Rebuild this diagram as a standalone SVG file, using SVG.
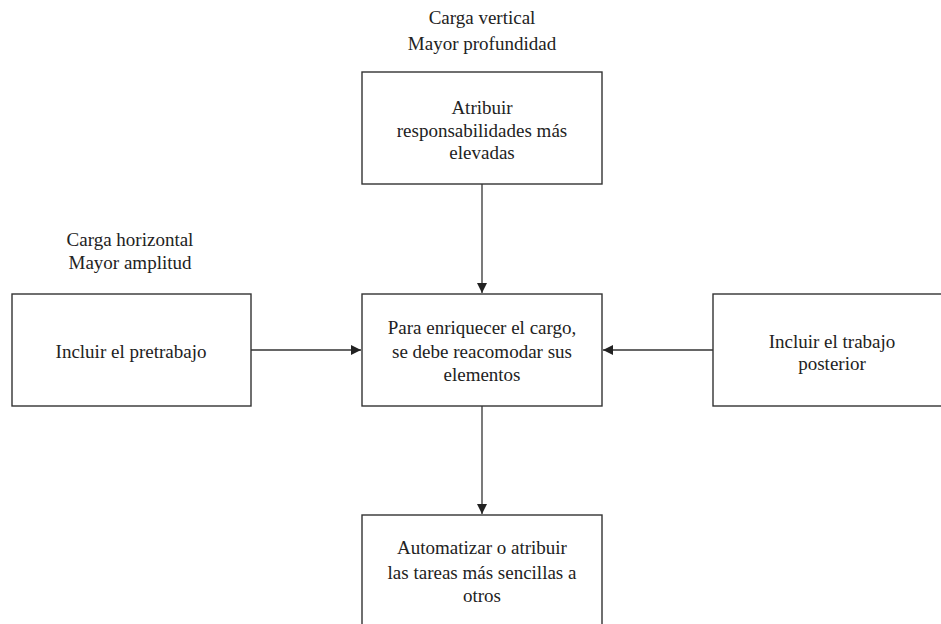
<svg xmlns="http://www.w3.org/2000/svg" width="941" height="624" viewBox="0 0 941 624">
<defs>
<marker id="ah" viewBox="0 0 10 10" refX="10" refY="5" markerWidth="10" markerHeight="10" markerUnits="userSpaceOnUse" orient="auto">
<path d="M0,0 L10,5 L0,10 Z" fill="#222"/>
</marker>
</defs>
<rect width="941" height="624" fill="#fff"/>
<g id="label-vertical">
<text x="482" y="24" font-size="19" font-family="Liberation Serif, serif" text-anchor="middle" fill="#222">Carga vertical</text>
<text x="482" y="50" font-size="19" font-family="Liberation Serif, serif" text-anchor="middle" fill="#222">Mayor profundidad</text>
</g>
<g id="label-horizontal">
<text x="130" y="246" font-size="19" font-family="Liberation Serif, serif" text-anchor="middle" fill="#222">Carga horizontal</text>
<text x="130" y="269" font-size="19" font-family="Liberation Serif, serif" text-anchor="middle" fill="#222">Mayor amplitud</text>
</g>
<g id="node-top">
<rect x="362" y="72" width="240" height="112" fill="#fff" stroke="#333" stroke-width="1.4"/>
<text x="482" y="114" font-size="19" font-family="Liberation Serif, serif" text-anchor="middle" fill="#222">Atribuir</text>
<text x="482" y="137" font-size="19" font-family="Liberation Serif, serif" text-anchor="middle" fill="#222">responsabilidades más</text>
<text x="482" y="159" font-size="19" font-family="Liberation Serif, serif" text-anchor="middle" fill="#222">elevadas</text>
</g>
<g id="node-center">
<rect x="362" y="294" width="240" height="112" fill="#fff" stroke="#333" stroke-width="1.4"/>
<text x="482" y="334" font-size="19" font-family="Liberation Serif, serif" text-anchor="middle" fill="#222">Para enriquecer el cargo,</text>
<text x="482" y="358" font-size="19" font-family="Liberation Serif, serif" text-anchor="middle" fill="#222">se debe reacomodar sus</text>
<text x="482" y="381" font-size="19" font-family="Liberation Serif, serif" text-anchor="middle" fill="#222">elementos</text>
</g>
<g id="node-left">
<rect x="12" y="294" width="239" height="112" fill="#fff" stroke="#333" stroke-width="1.4"/>
<text x="131" y="358" font-size="19" font-family="Liberation Serif, serif" text-anchor="middle" fill="#222">Incluir el pretrabajo</text>
</g>
<g id="node-right">
<rect x="713" y="294" width="240" height="112" fill="#fff" stroke="#333" stroke-width="1.4"/>
<text x="832" y="348" font-size="19" font-family="Liberation Serif, serif" text-anchor="middle" fill="#222">Incluir el trabajo</text>
<text x="832" y="370" font-size="19" font-family="Liberation Serif, serif" text-anchor="middle" fill="#222">posterior</text>
</g>
<g id="node-bottom">
<rect x="362" y="515" width="240" height="112" fill="#fff" stroke="#333" stroke-width="1.4"/>
<text x="482" y="554" font-size="19" font-family="Liberation Serif, serif" text-anchor="middle" fill="#222">Automatizar o atribuir</text>
<text x="482" y="579" font-size="19" font-family="Liberation Serif, serif" text-anchor="middle" fill="#222">las tareas más sencillas a</text>
<text x="482" y="602" font-size="19" font-family="Liberation Serif, serif" text-anchor="middle" fill="#222">otros</text>
</g>
<g id="connectors" stroke="#333" stroke-width="1.3" fill="none">
<line x1="482" y1="184" x2="482" y2="293" marker-end="url(#ah)"/>
<line x1="251" y1="350" x2="361" y2="350" marker-end="url(#ah)"/>
<line x1="713" y1="350" x2="603" y2="350" marker-end="url(#ah)"/>
<line x1="482" y1="406" x2="482" y2="514" marker-end="url(#ah)"/>
</g>
</svg>
